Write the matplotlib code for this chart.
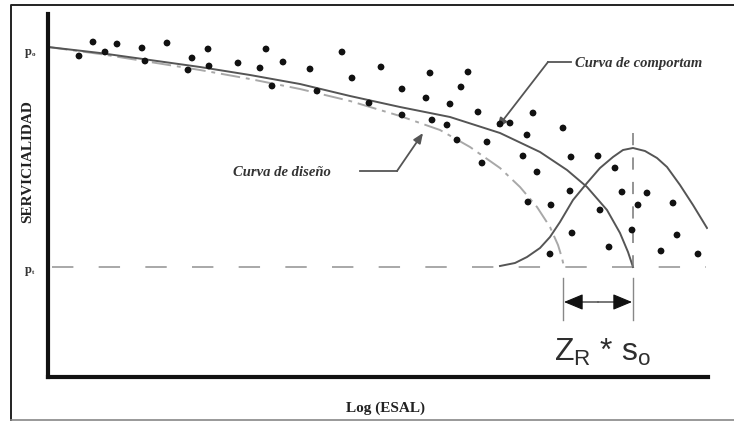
"""Serviceability vs Log(ESAL) schematic: design and performance curves."""

import matplotlib

matplotlib.use("Agg")

import matplotlib.pyplot as plt

W, H, DPI = 734, 421, 100

# chart frame is in image-pixel units (y grows downwards)
X_MIN, X_MAX = 48, 708
Y_TOP, Y_BOTTOM = 14, 377
PT_LEVEL = 267

# observed serviceability points
obs_x = [79, 93, 105, 117, 142, 145, 167, 188, 192, 208, 209, 238, 260, 266, 272,
         283, 310, 317, 342, 352, 369, 381, 402, 402, 426, 430, 432, 447, 450, 461,
         468, 478, 457, 487, 482, 500, 510, 527, 533, 563, 523, 537, 571, 598, 615,
         570, 622, 647, 528, 551, 600, 638, 673, 572, 632, 677, 609, 661, 698, 550]
obs_y = [56, 42, 52, 44, 48, 61, 43, 70, 58, 49, 66, 63, 68, 49, 86,
         62, 69, 91, 52, 78, 103, 67, 89, 115, 98, 73, 120, 125, 104, 87,
         72, 112, 140, 142, 163, 124, 123, 135, 113, 128, 156, 172, 157, 156, 168,
         191, 192, 193, 202, 205, 210, 205, 203, 233, 230, 235, 247, 251, 254, 254]

# performance curve (curva de comportamiento)
perf_x = [48, 100, 150, 200, 250, 300, 350, 400, 450, 500, 540, 567, 587, 607, 620, 628, 633]
perf_y = [47, 53, 60, 67, 75, 84, 96, 107, 117, 133, 152, 170, 187, 210, 233, 252, 267]

# design curve (curva de diseno)
design_x = [48, 100, 150, 200, 250, 300, 350, 400, 440, 470, 500, 520, 537, 550, 558, 562, 564]
design_y = [47, 54, 62, 70, 79, 89, 101, 116, 130, 147, 168, 187, 207, 227, 245, 258, 267]

# reliability distribution
bell_x = [500, 515, 527, 540, 550, 560, 573, 587, 600, 613, 623, 633,
          645, 657, 667, 680, 693, 707]
bell_y = [266, 263, 257, 248, 237, 222, 200, 183, 168, 157, 150, 148,
          151, 158, 167, 185, 205, 228]

SHIFT_LEFT, SHIFT_RIGHT = 563, 633

SERIF = ["Liberation Serif", "DejaVu Serif"]
CURVE_GREY = "#555555"
LIGHT_GREY = "#a8a8a8"

fig = plt.figure(figsize=(W / DPI, H / DPI), dpi=DPI)
fig.patch.set_facecolor("white")

# outer picture frame
frame = fig.add_axes([0, 0, 1, 1])
frame.set_xlim(0, W)
frame.set_ylim(H, 0)
frame.set_axis_off()
frame.plot([11, 11, W], [420, 5, 5], color="#222222", lw=1.4)
frame.plot([11, W], [420, 420], color="#888888", lw=1.2)

ax = fig.add_axes([X_MIN / W, 1 - Y_BOTTOM / H, (X_MAX - X_MIN) / W, (Y_BOTTOM - Y_TOP) / H])
ax.set_xlim(X_MIN, X_MAX)
ax.set_ylim(Y_BOTTOM, Y_TOP)
ax.patch.set_alpha(0)
for side in ["top", "right"]:
    ax.spines[side].set_visible(False)
for side in ["left", "bottom"]:
    ax.spines[side].set_linewidth(3.0)
    ax.spines[side].set_color("#111111")
ax.set_xticks([])
ax.set_yticks([])

# terminal serviceability level
ax.plot([X_MIN + 4, X_MAX - 2], [PT_LEVEL, PT_LEVEL], color=LIGHT_GREY, lw=1.4,
        dashes=(11, 13))

ax.plot(design_x, design_y, color=LIGHT_GREY, lw=1.4, dashes=(10, 3, 2, 3))
ax.plot(perf_x, perf_y, color=CURVE_GREY, lw=1.4)
ax.plot(bell_x, bell_y, color=CURVE_GREY, lw=1.4)
ax.scatter(obs_x, obs_y, s=24, marker="o", color="#111111", edgecolors="none", zorder=4)

# mean of the distribution
ax.plot([SHIFT_RIGHT, SHIFT_RIGHT], [133, PT_LEVEL], color="#777777", lw=1.1,
        dashes=(8, 8))

# Z_R * s_o offset bracket
for xv in [SHIFT_LEFT, SHIFT_RIGHT]:
    ax.plot([xv, xv], [278, 320], color="#888888", lw=1.0)
for xv in [SHIFT_LEFT + 1, SHIFT_RIGHT - 1]:
    ax.annotate("", xy=(xv, 302), xytext=(598, 302),
                arrowprops=dict(arrowstyle="-|>,head_length=1.2,head_width=0.5",
                                color="#111111", lw=0.8, shrinkA=0, shrinkB=0))
ax.text(603, 352, r"Z$_\mathregular{R}$ * s$_\mathregular{o}$", fontsize=23,
        color="#2e2e2e", ha="center", va="center", family="Liberation Sans")

# curve labels
label_style = dict(fontsize=10.5, color="#333333", family=SERIF,
                   style="italic", weight="bold", va="center")
ax.text(575, 64, "Curva de comportam", ha="left", **label_style)
ax.annotate("", xy=(497, 128), xytext=(548, 62),
            arrowprops=dict(arrowstyle="-|>,head_length=0.6,head_width=0.25",
                            color="#555555", lw=1.3, shrinkA=0, shrinkB=0))
ax.plot([548, 571], [62, 62], color="#555555", lw=1.3)

ax.text(233, 172, "Curva de diseño", ha="left", **label_style)
ax.annotate("", xy=(423, 133), xytext=(397, 171),
            arrowprops=dict(arrowstyle="-|>,head_length=0.6,head_width=0.25",
                            color="#555555", lw=1.3, shrinkA=0, shrinkB=0))
ax.plot([360, 397], [171, 171], color="#555555", lw=1.3)

# axis labels
frame.text(28, 52, "p", fontsize=9, family=SERIF, weight="bold", ha="center",
           va="center", color="#333333")
frame.text(32, 55, "o", fontsize=5, family=SERIF, weight="bold", ha="left",
           va="center", color="#333333")
frame.text(28, 270, "p", fontsize=9, family=SERIF, weight="bold", ha="center",
           va="center", color="#333333")
frame.text(32, 273, "t", fontsize=5, family=SERIF, weight="bold", ha="left",
           va="center", color="#333333")
frame.text(28, 162, "SERVICIALIDAD", rotation=90, fontsize=11, family=SERIF,
           weight="bold", ha="center", va="center", color="#222222")
frame.text(385, 408, "Log (ESAL)", fontsize=11, family=SERIF, weight="bold",
           ha="center", va="center", color="#222222")

fig.savefig("out.png", dpi=DPI)
plt.close(fig)
